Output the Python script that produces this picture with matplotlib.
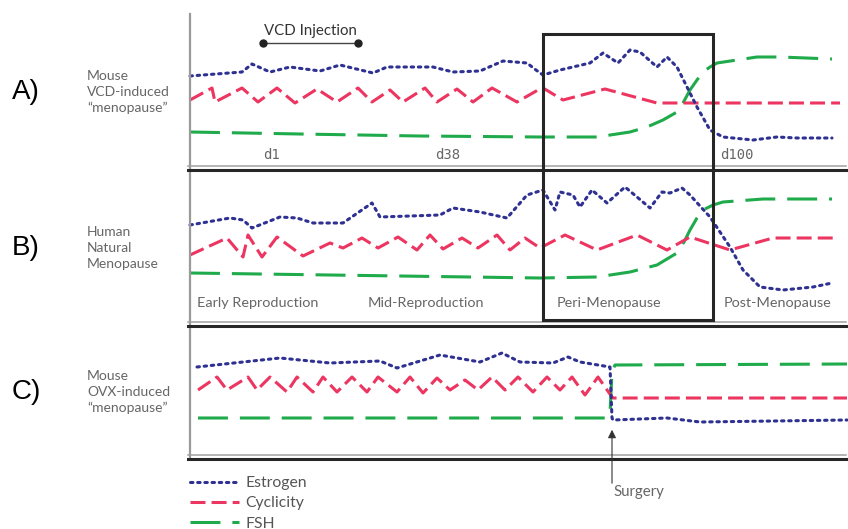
import matplotlib
matplotlib.use("Agg")
import matplotlib.pyplot as plt
from matplotlib.patches import Rectangle
from matplotlib.lines import Line2D

# --- series traces (canvas units: x to the right, y downward) ---
# A) mouse, VCD-induced menopause
a_estrogen_x = [190, 242, 252, 270, 290, 320, 340, 373, 387, 433, 453, 480, 503, 527, 536, 543, 560,
                590, 603, 618, 630, 640, 657, 667, 677, 687, 697, 710, 723, 753, 777, 797, 832]
a_estrogen_y = [76, 72, 64, 72, 67, 71, 65, 73, 67, 67, 72, 71, 61, 63, 70, 75, 70,
                63, 53, 63, 50, 52, 67, 57, 67, 87, 107, 130, 137, 140, 137, 138, 138]
a_cycl_x = [190, 212, 215, 242, 258, 277, 295, 317, 337, 358, 372, 390, 403, 425, 437, 457, 473,
            492, 517, 538, 543, 563, 605, 657, 840]
a_cycl_y = [100, 88, 102, 88, 102, 88, 103, 89, 102, 88, 102, 90, 102, 88, 102, 89, 102,
            88, 102, 90, 88, 100, 89, 103, 103]
a_fsh_x = [190, 300, 420, 540, 597, 630, 647, 663, 677, 683, 690, 697, 703, 710, 717, 737, 757, 780, 832]
a_fsh_y = [132, 134, 136, 137, 137, 132, 127, 120, 112, 103, 90, 80, 72, 67, 63, 60, 57, 57, 59]

# B) human, natural menopause
b_estrogen_x = [190, 230, 243, 252, 280, 297, 313, 343, 372, 380, 440, 453, 480, 507, 527, 543, 555,
                560, 573, 580, 592, 607, 625, 637, 650, 662, 670, 682, 690, 710, 730, 743, 760,
                783, 813, 832]
b_estrogen_y = [225, 218, 220, 228, 217, 218, 223, 223, 203, 217, 215, 208, 212, 218, 195, 190, 210,
                192, 195, 207, 190, 203, 187, 197, 208, 192, 193, 188, 195, 217, 247, 270, 287,
                290, 287, 283]
b_cycl_x = [190, 227, 243, 248, 262, 277, 303, 330, 343, 362, 378, 398, 417, 430, 443, 462, 478,
            497, 510, 525, 540, 565, 597, 637, 667, 690, 730, 773, 833]
b_cycl_y = [255, 238, 257, 235, 257, 237, 256, 243, 248, 238, 248, 237, 250, 235, 249, 238, 248,
            235, 250, 238, 248, 235, 250, 235, 250, 237, 250, 238, 238]
b_fsh_x = [190, 400, 540, 597, 630, 657, 677, 684, 690, 697, 703, 713, 723, 763, 832]
b_fsh_y = [273, 276, 278, 277, 272, 265, 253, 242, 230, 218, 210, 205, 202, 199, 199]

# C) mouse, OVX-induced menopause
c_estrogen_x = [197, 280, 330, 380, 397, 440, 480, 502, 520, 553, 568, 580, 610, 612, 613, 667, 700, 847]
c_estrogen_y = [367, 358, 363, 361, 368, 355, 362, 353, 362, 363, 357, 362, 367, 418, 420, 418, 422, 420]
c_cycl_x = [198, 217, 227, 248, 257, 270, 287, 297, 313, 323, 337, 352, 367, 378, 397, 410, 423,
            437, 450, 465, 478, 492, 505, 518, 533, 547, 560, 572, 585, 598, 612, 613, 847]
c_cycl_y = [390, 377, 390, 377, 390, 377, 392, 377, 392, 377, 392, 377, 392, 377, 392, 377, 393,
            378, 390, 380, 390, 377, 390, 377, 392, 377, 390, 377, 395, 377, 397, 398, 398]
c_fsh_x = [198, 606, 610, 612, 615, 847]
c_fsh_y = [418, 418, 413, 372, 365, 364]

panel_letters = ["A)", "B)", "C)"]
panel_names = ["Mouse\nVCD-induced\n\u201cmenopause\u201d",
               "Human\nNatural\nMenopause",
               "Mouse\nOVX-induced\n\u201cmenopause\u201d"]
day_labels = ["d1", "d38", "d100"]
stage_labels = ["Early Reproduction", "Mid-Reproduction", "Peri-Menopause", "Post-Menopause"]
series_names = ["Estrogen", "Cyclicity", "FSH"]

# --- styling ---
W, H = 848, 529
EST_C, CYC_C, FSH_C = "#2e3192", "#ec3560", "#1faa4b"
LW = 2.2
EST_LS = (0, (0.8, 1.55))
CYC_LS = (0, (4.9, 2.0))
FSH_LS = (0, (9.8, 3.9))
GREY_TXT = "#666666"
FONT = "Lato"

fig = plt.figure(figsize=(W / 100, H / 100), dpi=100)
ax = fig.add_axes([0, 0, 1, 1])
ax.set_xlim(0, W)
ax.set_ylim(H, 0)
ax.axis("off")


def draw_series(xe, ye, xc, yc, xf, yf):
    ax.plot(xf, yf, color=FSH_C, lw=LW, ls=FSH_LS, solid_capstyle="butt")
    ax.plot(xc, yc, color=CYC_C, lw=LW, ls=CYC_LS, dash_capstyle="butt")
    ax.plot(xe, ye, color=EST_C, lw=LW, ls=EST_LS, dash_capstyle="round")


draw_series(a_estrogen_x, a_estrogen_y, a_cycl_x, a_cycl_y, a_fsh_x, a_fsh_y)
draw_series(b_estrogen_x, b_estrogen_y, b_cycl_x, b_cycl_y, b_fsh_x, b_fsh_y)
draw_series(c_estrogen_x, c_estrogen_y, c_cycl_x, c_cycl_y, c_fsh_x, c_fsh_y)

# left axis and double-rule panel separators
ax.plot([190, 190], [14, 458], color="#9a9a9a", lw=1.6)
for y_sep in (166, 322, 455):
    ax.plot([188, 846], [y_sep, y_sep], color="#a0a0a0", lw=1.1)
    ax.plot([188, 846], [y_sep + 4, y_sep + 4], color="#262626", lw=2.2)

# peri-menopause window spanning A and B
ax.add_patch(Rectangle((543, 34), 170, 286, fill=False, ec="#262626", lw=2.2, zorder=5))

# VCD injection period
ax.plot([263, 358], [43, 43], color="#444444", lw=1.0, marker="o", ms=5, mfc="#222222", mec="#222222")
ax.text(310, 31, "VCD Injection", ha="center", va="center", fontsize=10.8, color="#333333", family=FONT)

# day markers in A
for lab, xd in zip(day_labels, [271, 448, 737]):
    ax.text(xd, 155, lab, ha="center", va="center", fontsize=10, color=GREY_TXT, family="DejaVu Sans Mono")

# stage labels in B
for lab, xs in zip(stage_labels, [197, 368, 557, 724]):
    ax.text(xs, 303, lab, ha="left", va="center", fontsize=10.4, color=GREY_TXT, family=FONT)

# row labels
for letter, name, yc in zip(panel_letters, panel_names, [92, 248, 392]):
    ax.text(12, yc, letter, ha="left", va="center", fontsize=20, color="black", family="Liberation Sans")
    ax.text(87, yc, name, ha="left", va="center", fontsize=10, color=GREY_TXT, family=FONT,
            linespacing=1.38)

# surgery marker in C
ax.annotate("", xy=(612, 427), xytext=(612, 486),
            arrowprops=dict(arrowstyle="-|>", color="#333333", lw=0.8, mutation_scale=12))
ax.text(613, 492, "Surgery", ha="left", va="center", fontsize=10.8, color=GREY_TXT, family=FONT)

# legend
handles = [Line2D([], [], color=EST_C, lw=LW, ls=EST_LS, dash_capstyle="round"),
           Line2D([], [], color=CYC_C, lw=LW, ls=CYC_LS),
           Line2D([], [], color=FSH_C, lw=LW, ls=FSH_LS)]
leg = ax.legend(handles, series_names, loc="upper left", bbox_to_anchor=(190 / W, 1 - 476 / H),
                bbox_transform=fig.transFigure, frameon=False, borderpad=0, borderaxespad=0,
                handlelength=3.1, handletextpad=0.45, labelspacing=0.4,
                prop={"family": FONT, "size": 11.3})
for t in leg.get_texts():
    t.set_color("#555555")

fig.savefig("out.png", dpi=100)
